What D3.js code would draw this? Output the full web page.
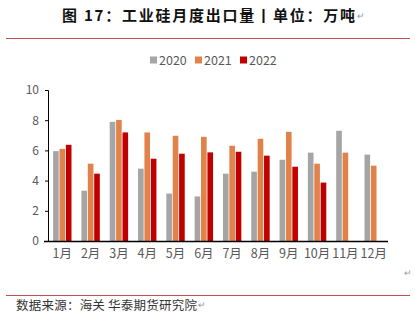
<!DOCTYPE html>
<html><head><meta charset="utf-8">
<script src="https://cdn.jsdelivr.net/npm/d3@7"></script>
<style>body{margin:0;background:#fff}svg{display:block}</style>
</head><body><svg id="c" width="415" height="322"></svg>
<script>
const months = ["1月","2月","3月","4月","5月","6月","7月","8月","9月","10月","11月","12月"];
const seriesNames = ["2020","2021","2022"];
const v2020 = [5.95,3.33,7.89,4.79,3.14,2.95,4.46,4.59,5.38,5.85,7.30,5.72];
const v2021 = [6.10,5.12,8.02,7.19,6.97,6.90,6.31,6.77,7.23,5.12,5.85,4.99];
const v2022 = [6.37,4.46,7.19,5.45,5.78,5.87,5.91,5.65,4.92,3.87,null,null];
const yTicks = [0,2,4,6,8,10];
const colors = ["#a5a5a5","#e0824a","#c00000"];

const svg = d3.select("#c");
const font = "'Noto Sans CJK SC', 'Liberation Sans', sans-serif";

// title
svg.append("text").attr("x",62).attr("y",21)
  .attr("textLength",293).attr("lengthAdjust","spacing")
  .attr("font-family",font).attr("font-weight","bold").attr("font-size",15).attr("fill","#111")
  .text("图 17：工业硅月度出口量丨单位：万吨");
svg.append("text").attr("x",357).attr("y",19).attr("font-family",font).attr("font-size",9).attr("fill","#999").text("↵");
svg.append("line").attr("x1",6).attr("x2",410).attr("y1",38.5).attr("y2",38.5).attr("stroke","#c0504d").attr("stroke-width",1.2);

const x = d3.scaleBand().domain(months).range([48,388]).paddingInner(0.35).paddingOuter(0.18);
const x1 = d3.scaleBand().domain(seriesNames).range([0,x.bandwidth()]).paddingInner(0.12);
const y = d3.scaleLinear().domain([0,10]).range([241,90]);

const data = [v2020,v2021,v2022];
data.forEach((arr,si)=>{
  svg.append("g").selectAll("rect").data(arr.map((v,i)=>({v,i})).filter(d=>d.v!=null))
    .join("rect")
    .attr("x",d=>x(months[d.i])+x1(seriesNames[si]))
    .attr("width",x1.bandwidth())
    .attr("y",d=>y(d.v)).attr("height",d=>y(0)-y(d.v))
    .attr("fill",colors[si]);
});

const ya = svg.append("g").attr("transform","translate(48,0)")
  .call(d3.axisLeft(y).tickValues(yTicks).tickSize(3).tickPadding(6));
ya.select(".domain").attr("stroke","#000");
ya.selectAll(".tick line").attr("stroke","#000");
ya.selectAll("text").attr("font-family",font).attr("font-size",12).attr("fill","#595959");

const xa = svg.append("g").attr("transform","translate(0,241)")
  .call(d3.axisBottom(x).tickSize(0).tickPadding(8));
xa.select(".domain").attr("stroke","#000").attr("stroke-width",1.3).attr("d","M44,0.5H388");
xa.selectAll("text").attr("font-family",font).attr("font-size",12.5).attr("fill","#595959");

// legend
const lg = svg.append("g");
const lx = [150,195,240];
seriesNames.forEach((s,i)=>{
  lg.append("rect").attr("x",lx[i]).attr("y",56.5).attr("width",7).attr("height",7).attr("fill",colors[i]);
  lg.append("text").attr("x",lx[i]+9).attr("y",65).attr("font-family",font).attr("font-size",12.5)
    .attr("fill","#595959").text(s);
});

svg.append("text").attr("x",404).attr("y",276).attr("font-family",font).attr("font-size",9).attr("fill","#999").text("↵");

// footer
svg.append("line").attr("x1",6).attr("x2",410).attr("y1",295.5).attr("y2",295.5).attr("stroke","#c0504d").attr("stroke-width",1);
svg.append("text").attr("x",16).attr("y",310).attr("textLength",181).attr("lengthAdjust","spacing")
  .attr("font-family",font).attr("font-size",12.5).attr("fill","#333")
  .text("数据来源：海关 华泰期货研究院");
svg.append("text").attr("x",198).attr("y",308).attr("font-family",font).attr("font-size",9).attr("fill","#999").text("↵");
</script></body></html>
